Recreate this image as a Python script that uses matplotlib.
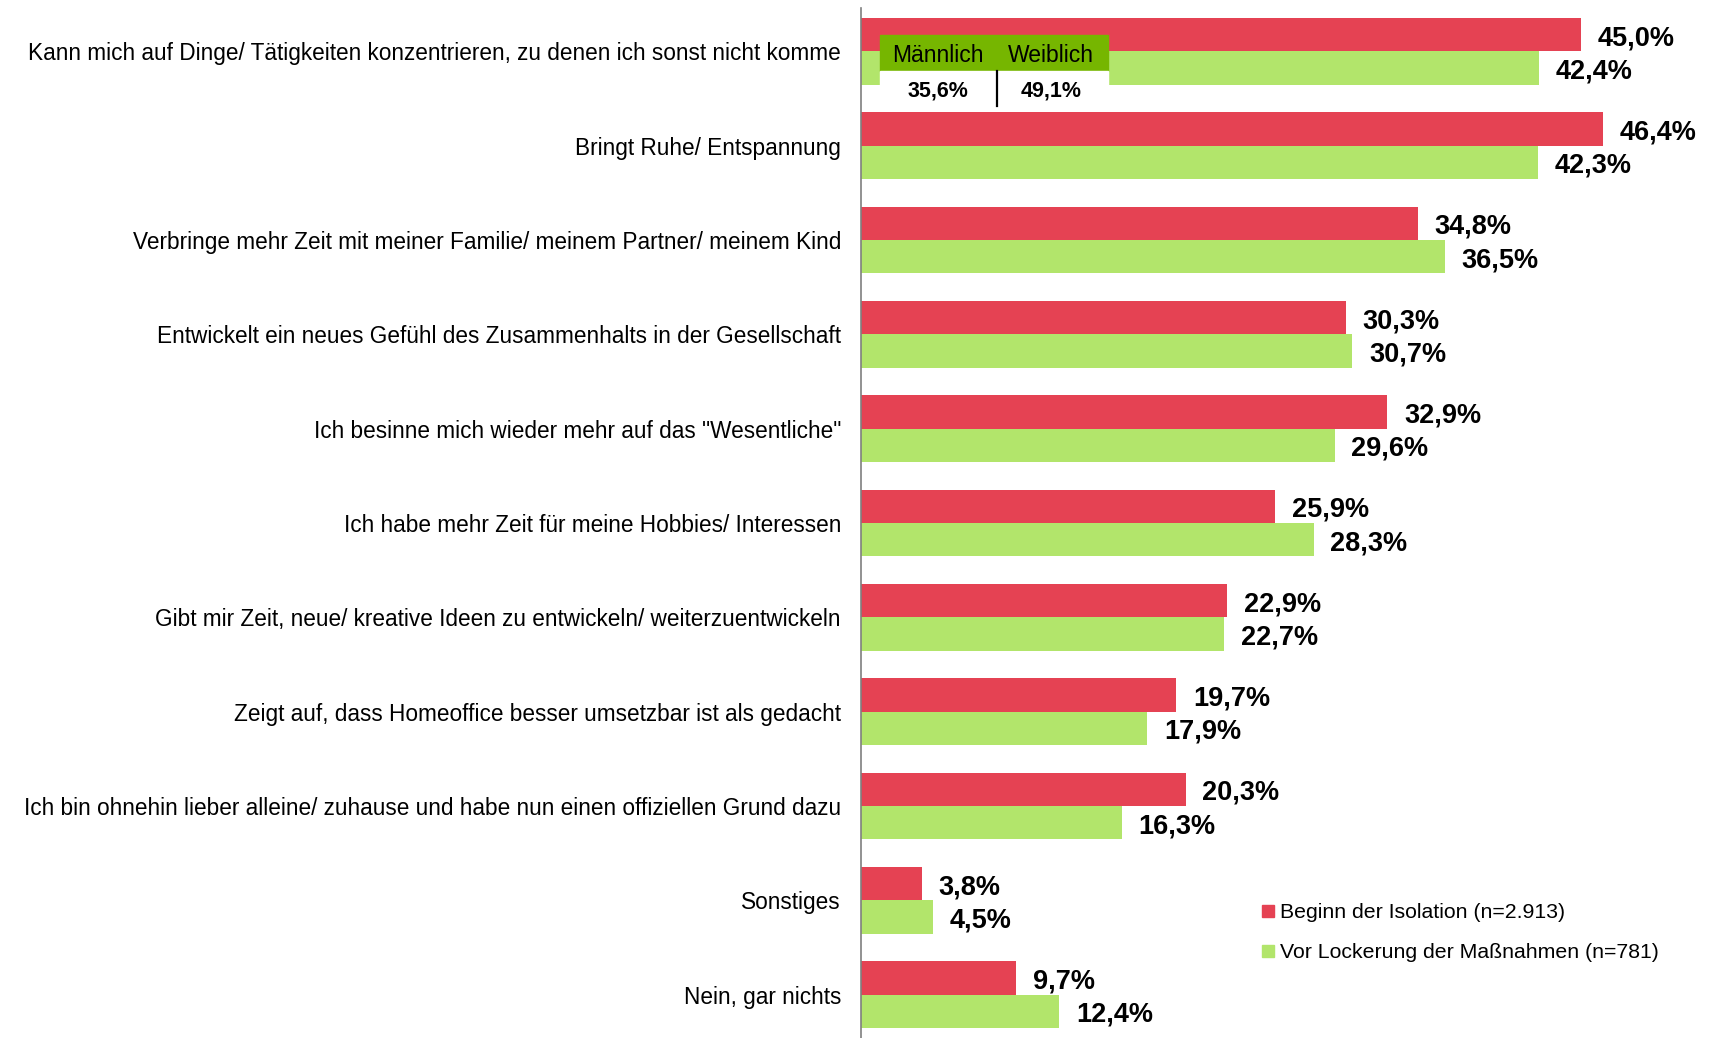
import matplotlib
matplotlib.use("Agg")
import matplotlib.pyplot as plt
from matplotlib.lines import Line2D
from matplotlib.patches import Rectangle
import numpy as np

plt.rcParams['font.family'] = ['Liberation Sans', 'DejaVu Sans']

categories = [
    "Kann mich auf Dinge/ Tätigkeiten konzentrieren, zu denen ich sonst nicht komme",
    "Bringt Ruhe/ Entspannung",
    "Verbringe mehr Zeit mit meiner Familie/ meinem Partner/ meinem Kind",
    "Entwickelt ein neues Gefühl des Zusammenhalts in der Gesellschaft",
    "Ich besinne mich wieder mehr auf das \"Wesentliche\"",
    "Ich habe mehr Zeit für meine Hobbies/ Interessen",
    "Gibt mir Zeit, neue/ kreative Ideen zu entwickeln/ weiterzuentwickeln",
    "Zeigt auf, dass Homeoffice besser umsetzbar ist als gedacht",
    "Ich bin ohnehin lieber alleine/ zuhause und habe nun einen offiziellen Grund dazu",
    "Sonstiges",
    "Nein, gar nichts",
]
beginn = [45.0, 46.4, 34.8, 30.3, 32.9, 25.9, 22.9, 19.7, 20.3, 3.8, 9.7]
vor_lockerung = [42.4, 42.3, 36.5, 30.7, 29.6, 28.3, 22.7, 17.9, 16.3, 4.5, 12.4]
series_names = ["Beginn der Isolation (n=2.913)", "Vor Lockerung der Maßnahmen (n=781)"]
inset_headers = ["Männlich", "Weiblich"]
inset_values = ["35,6%", "49,1%"]

RED = "#E54253"
LGREEN = "#B2E56B"
DGREEN = "#76B600"

W, H = 1715, 1038
fig = plt.figure(figsize=(W / 100, H / 100), dpi=100)
ax = fig.add_axes([861 / W, 0.0, 1 - 861 / W, 1 - 8 / H])

def fmt(v):
    return f"{v:.1f}%".replace(".", ",")

y = np.arange(len(categories))
bh = 0.354
ax.barh(y - bh / 2, beginn, height=bh, color=RED, label=series_names[0])
ax.barh(y + bh / 2, vor_lockerung, height=bh, color=LGREEN, label=series_names[1])

for yi, v in zip(y, beginn):
    ax.annotate(fmt(v), (v, yi - bh / 2), xytext=(12, -2.5), textcoords="offset points",
                ha="left", va="center", fontsize=19.5, fontweight="bold")
for yi, v in zip(y, vor_lockerung):
    ax.annotate(fmt(v), (v, yi + bh / 2), xytext=(12, -2.5), textcoords="offset points",
                ha="left", va="center", fontsize=19.5, fontweight="bold")

ax.set_xlim(0, (W - 861) / 16)
ax.set_ylim(10.46, -0.46)
ax.set_yticks(y)
ax.set_yticklabels(categories, fontsize=16.3)
ax.tick_params(axis="y", length=0, pad=14.4)
ax.set_xticks([])
for s in ["top", "right", "bottom"]:
    ax.spines[s].set_visible(False)
ax.spines["left"].set_color("#7F7F7F")
ax.spines["left"].set_linewidth(1.2)

handles = [Line2D([], [], marker="s", linestyle="none", markersize=8, color=RED),
           Line2D([], [], marker="s", linestyle="none", markersize=8, color=LGREEN)]
fig.legend(handles, series_names, loc="upper left",
           bbox_to_anchor=(1262 / W, 1 - 903 / H), frameon=False, fontsize=15.3,
           borderpad=0, handlelength=0.55, handletextpad=0.3, labelspacing=1.0,
           borderaxespad=0)

# inset box (figure pixel coordinates)
def fx(px):
    return px / W

def fy(py):
    return 1 - py / H

fig.add_artist(Rectangle((fx(880), fy(71)), fx(1108) - fx(880), fy(35) - fy(71),
                         transform=fig.transFigure, color=DGREEN, zorder=5))
fig.add_artist(Rectangle((fx(880), fy(100)), fx(1108) - fx(880), fy(71) - fy(100),
                         transform=fig.transFigure, color="white", zorder=5))
fig.add_artist(Line2D([fx(997), fx(997)], [fy(71), fy(106)], transform=fig.transFigure,
                      color="black", lw=1.6, zorder=6))
for cx, h, v in zip([938, 1051], inset_headers, inset_values):
    fig.text(fx(cx), fy(55), h, ha="center", va="center", fontsize=16.5, zorder=7)
    fig.text(fx(cx), fy(91), v, ha="center", va="center", fontsize=15.5,
             fontweight="bold", zorder=7)

fig.savefig("out.png", dpi=100)
